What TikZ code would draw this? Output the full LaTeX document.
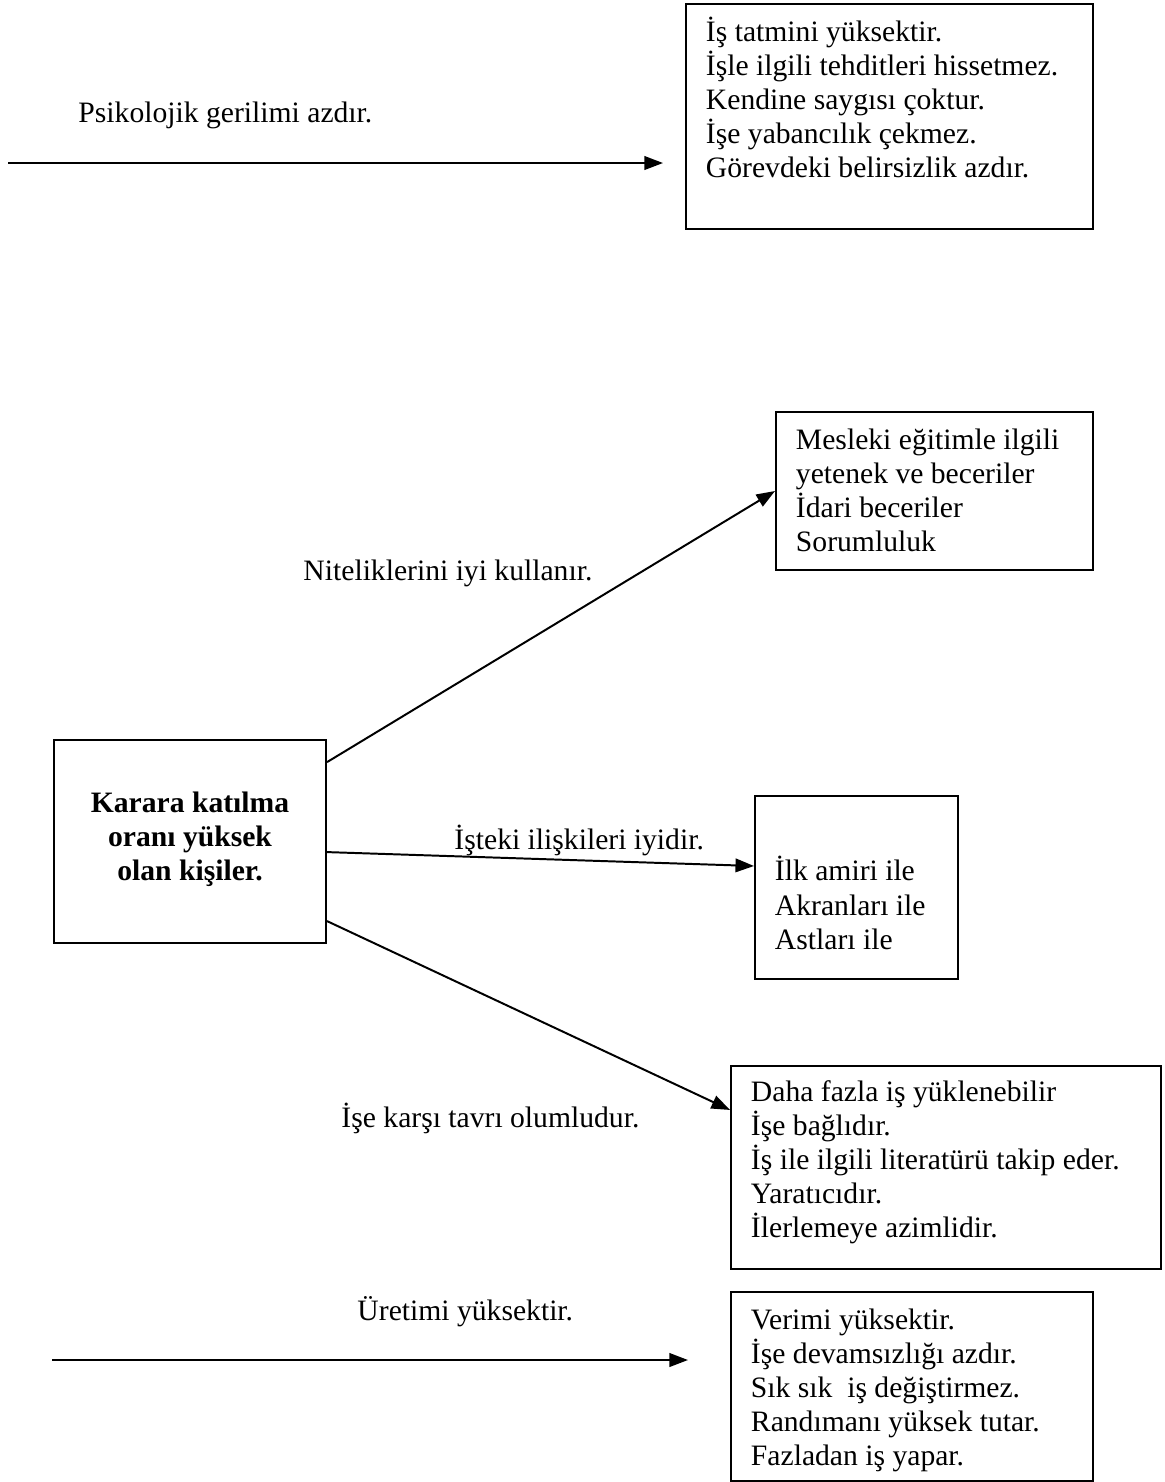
\documentclass[tikz,border=0pt]{standalone}
\usepackage{fontspec}
\setmainfont{Liberation Serif}
\usetikzlibrary{arrows.meta}
\pgfdeclarelayer{bg}
\pgfsetlayers{bg,main}
\newcommand{\yazi}{\fontsize{12}{13.8}\selectfont}
\tikzset{
        kutu/.style={draw, line width=0.8pt, anchor=north west, inner ysep=0pt, inner xsep=8.1pt, align=flush left, font=\yazi},
        etiket/.style={anchor=base west, inner sep=0pt, font=\yazi},
        ok/.style={line width=0.8pt, -{Triangle[length=7.5pt,width=5.5pt]}}
}
\begin{document}
\begin{tikzpicture}[x=0.405pt, y=-0.405pt]
        \useasboundingbox (0,0) rectangle (1165,1482);
        \node (kk) [kutu, inner xsep=4.05pt, align=flush center, font=\yazi\bfseries, text width=102.1pt, text height=29.2pt, text depth=53.1pt] at (53,739) {Karara katılma\\ oranı yüksek\\ olan kişiler.};
        \node (s1) [kutu, text width=148.6pt, text height=15pt, text depth=76.1pt] at (685,3) {İş tatmini yüksektir.\\ İşle ilgili tehditleri hissetmez.\\ Kendine saygısı çoktur.\\ İşe yabancılık çekmez.\\ Görevdeki belirsizlik azdır.};
        \node (s2) [kutu, text width=112.2pt, text height=15pt, text depth=49pt] at (775,411) {Mesleki eğitimle ilgili\\ yetenek ve beceriler\\ İdari beceriler\\ Sorumluluk};
        \node (s3) [kutu, text width=66pt, text height=34.4pt, text depth=39.7pt] at (754,795) {İlk amiri ile\\ Akranları ile\\ Astları ile};
        \node (s4) [kutu, text width=158pt, text height=14.2pt, text depth=68pt] at (730,1065) {Daha fazla iş yüklenebilir\\ İşe bağlıdır.\\ İş ile ilgili literatürü takip eder.\\ Yaratıcıdır.\\ İlerlemeye azimlidir.};
        \node (s5) [kutu, text width=130.4pt, text height=15pt, text depth=61.6pt] at (730,1291) {Verimi yüksektir.\\ İşe devamsızlığı azdır.\\ Sık sık~ iş değiştirmez.\\ Randımanı yüksek tutar.\\ Fazladan iş yapar.};
        \node (e1) [etiket] at (78,122) {Psikolojik gerilimi azdır.};
        \node (e2) [etiket] at (303,580) {Niteliklerini iyi kullanır.};
        \node (e3) [etiket] at (454,849) {İşteki ilişkileri iyidir.};
        \node (e4) [etiket] at (341,1127) {İşe karşı tavrı olumludur.};
        \node (e5) [etiket] at (357,1320) {Üretimi yüksektir.};
        \coordinate (c1) at (8,163);
        \coordinate (c2) at (663,163);
        \coordinate (c3) at (52,1360);
        \coordinate (c4) at (688,1360);
        \begin{pgfonlayer}{bg}
                \draw (c1) edge [ok] (c2);
                \draw ([yshift=32.2pt]kk.east) edge [ok] (s2.west);
                \draw ([yshift=-4.25pt]kk.east) edge [ok] ([yshift=8.7pt]s3.west);
                \draw ([yshift=-32.2pt]kk.east) edge [ok] ([yshift=-18.2pt]s4.north west);
                \draw (c3) edge [ok] (c4);
        \end{pgfonlayer}
\end{tikzpicture}
\end{document}
